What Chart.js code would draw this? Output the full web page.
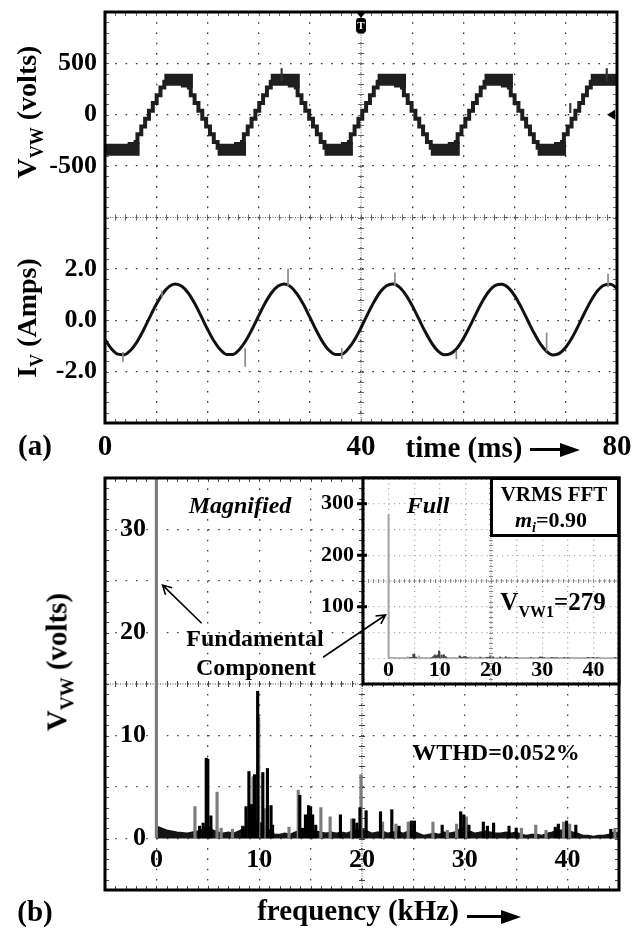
<!DOCTYPE html>
<html>
<head>
<meta charset="utf-8">
<title>Line voltage, phase current and voltage spectrum</title>
<script src="https://cdn.jsdelivr.net/npm/chart.js@4.4.1/dist/chart.umd.min.js"></script>
<style>
  html, body { margin: 0; padding: 0; background: #fff; }
  #page { position: relative; width: 635px; height: 931px; overflow: hidden;
          font-family: "Liberation Serif", "Times New Roman", serif; font-weight: bold; color: #000; }
  canvas { position: absolute; }
  .t { position: absolute; white-space: nowrap; line-height: 1; transform: translate(-50%, -50%); }
  .rot { transform: translate(-50%, -50%) rotate(-90deg); }
  .i { font-style: italic; }
  .s { position: relative; }
  .arrow { position: absolute; height: 3px; background: #000; }
  .arrow::after { content: ""; position: absolute; left: calc(100% - 2px); top: -5.5px;
                  border-left: 20px solid #000;
                  border-top: 7px solid transparent; border-bottom: 7px solid transparent; }
  #vrms { position: absolute; left: 490px; top: 477px; width: 124px; height: 54px;
          border: 3px solid #000; background: #fff; }
</style>
</head>
<body>
<div id="page">
  <canvas id="cA" width="635" height="460" style="left:0;top:0;width:635px;height:460px"></canvas>
  <canvas id="cB" width="635" height="471" style="left:0;top:460px;width:635px;height:471px"></canvas>
  <canvas id="cC" width="335" height="240" style="left:300px;top:460px;width:335px;height:240px"></canvas>

  <!-- panel (a) titles -->
  <div class="t rot" style="left:27px;top:112px;font-size:28px">V<span class="s" style="font-size:18px;top:7px">VW</span> (volts)</div>
  <div class="t rot" style="left:27px;top:318px;font-size:28px">I<span class="s" style="font-size:18px;top:7px">V</span> (Amps)</div>
  <div class="t" style="left:35px;top:445px;font-size:29px">(a)</div>
  <div class="t" style="left:464px;top:447px;font-size:29px">time (ms)</div>
  <div class="arrow" style="left:530px;top:448px;width:32px"></div>

  <!-- panel (b) titles -->
  <div class="t rot" style="left:57px;top:662px;font-size:29px">V<span class="s" style="font-size:19px;top:7px">VW</span> (volts)</div>
  <div class="t" style="left:35px;top:911px;font-size:29px">(b)</div>
  <div class="t" style="left:358px;top:910px;font-size:29px">frequency (kHz)</div>
  <div class="arrow" style="left:467px;top:915px;width:36px"></div>

  <div class="t i" style="left:240px;top:505px;font-size:24px">Magnified</div>
  <div class="t" style="left:255px;top:638px;font-size:24px">Fundamental</div>
  <div class="t" style="left:256px;top:667px;font-size:24px">Component</div>
  <div class="t i" style="left:428px;top:505px;font-size:24px">Full</div>
  <div id="vrms"></div>
  <div class="t" style="left:554px;top:494px;font-size:21px">VRMS FFT</div>
  <div class="t" style="left:551px;top:520px;font-size:22px"><span class="i">m<span class="s" style="font-size:14px;top:5px">i</span></span>=0.90</div>
  <div class="t" style="left:553px;top:601px;font-size:25px">V<span class="s" style="font-size:16px;top:7px">VW1</span>=279</div>
  <div class="t" style="left:496px;top:752px;font-size:24px">WTHD=0.052%</div>
</div>

<script>
// ---------- panel (a): time domain, 8 ms/div ----------
// staircase line voltage: instant (ms) where a new level starts, and that level (V)
const V_TIME = [0, 4.47, 5.07, 5.67, 6.27, 6.87, 7.47, 8.07, 8.67, 9.27,
  12.8, 13.4, 14.0, 14.6, 15.2, 15.8, 16.4, 17.0, 17.6,
  21.1, 21.7, 22.3, 22.9, 23.5, 24.1, 24.7, 25.3, 25.9,
  29.5, 30.1, 30.7, 31.3, 31.9, 32.5, 33.1, 33.7, 34.3,
  37.8, 38.4, 39.0, 39.6, 40.2, 40.8, 41.4, 42.0, 42.6,
  46.1, 46.7, 47.3, 47.9, 48.5, 49.1, 49.7, 50.3, 50.9,
  54.5, 55.1, 55.7, 56.3, 56.9, 57.5, 58.1, 58.7, 59.3,
  62.8, 63.4, 64.0, 64.6, 65.2, 65.8, 66.4, 67.0, 67.6,
  71.1, 71.7, 72.3, 72.9, 73.5, 74.1, 74.7, 75.3, 75.9, 80];
const V_LEVEL = [-340, -265, -190, -115, -40, 40, 115, 190, 265, 340,
  265, 190, 115, 40, -40, -115, -190, -265, -340,
  -265, -190, -115, -40, 40, 115, 190, 265, 340,
  265, 190, 115, 40, -40, -115, -190, -265, -340,
  -265, -190, -115, -40, 40, 115, 190, 265, 340,
  265, 190, 115, 40, -40, -115, -190, -265, -340,
  -265, -190, -115, -40, 40, 115, 190, 265, 340,
  265, 190, 115, 40, -40, -115, -190, -265, -340,
  -265, -190, -115, -40, 40, 115, 190, 265, 340, 340];
const V_SPIKES = [[27.6, 330, 450], [72.7, 20, 110], [78.4, 330, 450]]; // ms, from, to

// phase current sampled every millisecond (A)
const I_STEP = 1;
const I_VALUES = [-0.75, -1.11, -1.32, -1.34, -1.17, -0.84, -0.39, 0.12, 0.61, 1.03, 1.31,
  1.41, 1.32, 1.06, 0.66, 0.17, -0.34, -0.80, -1.14, -1.33, -1.33,
  -1.14, -0.80, -0.34, 0.17, 0.66, 1.06, 1.32, 1.41, 1.31, 1.03,
  0.62, 0.12, -0.39, -0.84, -1.17, -1.33, -1.32, -1.11, -0.76, -0.29,
  0.22, 0.70, 1.10, 1.34, 1.41, 1.29, 0.99, 0.57, 0.07, -0.43,
  -0.87, -1.19, -1.34, -1.30, -1.09, -0.71, -0.24, 0.27, 0.75, 1.13,
  1.36, 1.40, 1.27, 0.96, 0.52, 0.02, -0.48, -0.91, -1.21, -1.35,
  -1.29, -1.05, -0.67, -0.19, 0.32, 0.79, 1.16, 1.37, 1.40, 1.24];
const I_SPIKES = [[2.8, -1.6, -1.25], [8.9, 0.9, 1.15], [21.9, -1.8, -1.1], [28.6, 1.35, 2.0],
  [37.0, -1.5, -1.1], [45.3, 1.35, 1.85], [54.9, -1.5, -1.2], [69.0, -1.2, -0.5], [78.6, 1.3, 1.8]];

const T_TICKS = [0, 40, 80];
const V_TICKS = [500, 0, -500];
const I_TICKS = [2, 0, -2];

// ---------- panel (b): spectrum of V_VW ----------
const SPEC_GRAY = [[0, 279], [3.75, 3.1], [5.9, 4.5], [6.3, 1.0], [7.4, 0.9], [8.9, 2.0], [9.4, 6.0],
  [9.95, 11.8], [10.5, 2.9], [12.9, 1.1], [13.8, 4.7], [16.0, 3.0], [16.9, 2.1], [19.0, 1.9],
  [19.9, 6.2], [22.0, 1.6], [23.3, 1.4], [24.5, 1.6], [26.9, 1.6], [28.3, 0.8], [29.2, 1.4],
  [30.15, 2.1], [35.5, 1.0], [36.9, 1.3], [37.9, 0.8], [39.6, 1.6], [40.2, 1.4], [44.6, 1.0]];
const SPEC_BLACK = [[4.2, 1.2], [4.55, 1.5], [4.85, 7.8], [5.0, 7.7], [5.3, 2.2], [8.4, 1.2],
  [8.72, 3.1], [9.0, 6.5], [9.25, 3.3], [9.55, 6.2], [9.85, 14.3], [10.35, 6.4], [10.8, 6.8],
  [11.15, 3.2], [11.3, 1.3], [13.95, 4.2], [14.2, 1.0], [14.5, 2.3], [14.8, 3.2], [15.0, 3.1],
  [15.2, 2.3], [15.5, 1.3], [17.9, 2.3], [19.2, 1.9], [19.5, 1.5], [19.8, 3.0], [20.4, 2.7],
  [21.8, 2.6], [22.9, 2.8], [23.6, 1.2], [24.8, 1.7], [25.1, 1.7], [27.8, 1.3], [29.6, 2.6],
  [29.9, 2.3], [30.4, 1.3], [31.8, 1.6], [32.2, 1.2], [32.8, 1.5], [34.3, 1.2], [35.0, 1.0],
  [38.8, 1.1], [39.1, 1.4], [39.9, 1.7], [40.8, 1.3], [44.2, 0.9]];
// noise floor every 0.5 kHz from 0 to 45 kHz (V)
const NOISE_STEP = 0.5;
const NOISE = [1.2, 1.0, 0.8, 0.7, 0.6, 0.55, 0.5, 0.6, 0.7, 0.9,
  1.2, 0.8, 0.6, 0.5, 0.6, 0.5, 0.7, 1.0, 1.5, 1.8,
  1.6, 1.2, 0.8, 0.4, 0.4, 0.5, 0.4, 0.6, 0.8, 0.9,
  0.9, 0.7, 0.6, 0.5, 0.6, 0.5, 0.6, 0.5, 0.7, 0.8,
  0.9, 0.7, 0.5, 0.6, 0.7, 0.5, 0.6, 0.7, 0.5, 0.7,
  0.7, 0.5, 0.3, 0.4, 0.5, 0.4, 0.6, 0.5, 0.6, 0.9,
  1.0, 0.7, 0.5, 0.6, 0.7, 0.6, 0.5, 0.5, 0.6, 0.5,
  0.6, 0.4, 0.3, 0.4, 0.4, 0.3, 0.5, 0.6, 0.8, 0.8,
  0.8, 0.6, 0.5, 0.3, 0.3, 0.2, 0.3, 0.3, 0.4, 0.6,
  0.5];

const F_TICKS = [0, 10, 20, 30, 40];
const MAG_TICKS = [30, 20, 10, 0];
const FULL_TICKS = [300, 200, 100];

const SERIF = '"Liberation Serif", "Times New Roman", serif';
Chart.defaults.font.family = SERIF;

// scope-like scale: ticks only at the divisions, dotted grid, no labels
function gridScale(min, max, step, color, dash) {
  return {
    type: 'linear', min, max, offset: false,
    afterBuildTicks: s => {
      const t = [];
      for (let v = min; v <= max + 1e-9; v += step) t.push({ value: +v.toFixed(6) });
      s.ticks = t;
    },
    ticks: { display: false },
    grid: { color, lineWidth: 1.3, drawTicks: false, offset: false },
    border: { display: false, dash }
  };
}

// center cross with minor ticks, edge ticks and the thick frame
const graticule = {
  id: 'graticule',
  beforeDatasetsDraw(chart, args, o) {
    const { ctx, chartArea: a } = chart;
    const xs = chart.scales[o.x], ys = chart.scales[o.y];
    const cx = xs.getPixelForValue(o.cx), cy = ys.getPixelForValue(o.cy);
    ctx.save();
    ctx.strokeStyle = o.color || '#444';
    ctx.lineWidth = 1;
    ctx.setLineDash([1, 1.5]);
    ctx.beginPath();
    ctx.moveTo(cx, a.top); ctx.lineTo(cx, a.bottom);
    ctx.moveTo(a.left, cy); ctx.lineTo(a.right, cy);
    ctx.stroke();
    ctx.setLineDash([]);
    const tk = o.tick || 3, ed = o.edge || 4;
    ctx.beginPath();
    for (let v = xs.min; v <= xs.max + 1e-9; v += o.dx / 5) {
      const p = Math.round(xs.getPixelForValue(v)) + 0.5;
      ctx.moveTo(p, cy - tk); ctx.lineTo(p, cy + tk);
      ctx.moveTo(p, a.top); ctx.lineTo(p, a.top + ed);
      ctx.moveTo(p, a.bottom); ctx.lineTo(p, a.bottom - ed);
    }
    for (let v = ys.min; v <= ys.max + 1e-9; v += o.dy / 5) {
      const p = Math.round(ys.getPixelForValue(v)) + 0.5;
      ctx.moveTo(cx - tk, p); ctx.lineTo(cx + tk, p);
      ctx.moveTo(a.left, p); ctx.lineTo(a.left + ed, p);
      ctx.moveTo(a.right, p); ctx.lineTo(a.right - ed, p);
    }
    ctx.stroke();
    ctx.restore();
  },
  afterDatasetsDraw(chart) {
    const { ctx, chartArea: a } = chart;
    ctx.save();
    ctx.strokeStyle = '#000';
    ctx.lineWidth = 3;
    ctx.strokeRect(a.left, a.top, a.right - a.left, a.bottom - a.top);
    ctx.restore();
  }
};

function drawArrow(ctx, x0, y0, x1, y1) {
  const ang = Math.atan2(y1 - y0, x1 - x0), h = 10;
  ctx.beginPath();
  ctx.moveTo(x0, y0); ctx.lineTo(x1, y1);
  ctx.moveTo(x1 - h * Math.cos(ang - 0.5), y1 - h * Math.sin(ang - 0.5));
  ctx.lineTo(x1, y1);
  ctx.lineTo(x1 - h * Math.cos(ang + 0.5), y1 - h * Math.sin(ang + 0.5));
  ctx.stroke();
}

const labelsA = {
  id: 'labelsA',
  afterDraw(chart) {
    const { ctx, scales, chartArea: a } = chart;
    ctx.save();
    ctx.fillStyle = '#000';
    ctx.font = `bold 26px ${SERIF}`;
    ctx.textAlign = 'right';
    ctx.textBaseline = 'middle';
    V_TICKS.forEach(v => ctx.fillText(String(v), a.left - 8, scales.yV.getPixelForValue(v)));
    I_TICKS.forEach(v => ctx.fillText(v.toFixed(1), a.left - 8, scales.yI.getPixelForValue(v)));
    ctx.font = `bold 29px ${SERIF}`;
    ctx.textAlign = 'center';
    T_TICKS.forEach(v => ctx.fillText(String(v), scales.x.getPixelForValue(v), a.bottom + 25));

    // trigger marker at the top of the centre line
    const tx = scales.x.getPixelForValue(40);
    ctx.beginPath();
    ctx.moveTo(tx - 4, a.top + 1); ctx.lineTo(tx + 4, a.top + 1); ctx.lineTo(tx, a.top + 6);
    ctx.closePath(); ctx.fill();
    ctx.beginPath();
    ctx.roundRect(tx - 5, a.top + 6, 10, 15, 3);
    ctx.fill();
    ctx.fillStyle = '#fff';
    ctx.font = `bold 11px ${SERIF}`;
    ctx.fillText('T', tx, a.top + 14);
    // ground level marker of the voltage channel
    ctx.fillStyle = '#000';
    const gy = scales.yV.getPixelForValue(0);
    ctx.beginPath();
    ctx.moveTo(a.right - 2, gy - 5); ctx.lineTo(a.right - 2, gy + 5); ctx.lineTo(a.right - 10, gy);
    ctx.closePath(); ctx.fill();
    ctx.restore();
  }
};

new Chart(document.getElementById('cA'), {
  type: 'line',
  data: {
    datasets: [
      { label: 'V_VW', yAxisID: 'yV', order: 2,
        data: V_TIME.map((t, i) => ({ x: t, y: V_LEVEL[i] })),
        stepped: true, borderColor: '#1e1e1e', borderWidth: 4, pointRadius: 0,
        segment: { borderWidth: c => Math.abs(V_LEVEL[c.p0DataIndex]) >= 340 ? 12 : 4 } },
      { type: 'bar', label: 'V noise', yAxisID: 'yV', order: 1, grouped: false,
        data: V_SPIKES.map(s => ({ x: s[0], y: [s[1], s[2]] })),
        backgroundColor: '#333', barThickness: 1.5 },
      { label: 'I_V', yAxisID: 'yI', order: 2,
        data: I_VALUES.map((v, i) => ({ x: i * I_STEP, y: v })),
        borderColor: '#111', borderWidth: 3, pointRadius: 0, cubicInterpolationMode: 'monotone' },
      { type: 'bar', label: 'I noise', yAxisID: 'yI', order: 1, grouped: false,
        data: I_SPIKES.map(s => ({ x: s[0], y: [s[1], s[2]] })),
        backgroundColor: '#888', barThickness: 1 }
    ]
  },
  options: {
    responsive: false, animation: false, events: [],
    layout: { padding: { left: 105, top: 12, right: 18, bottom: 37 } },
    plugins: {
      legend: { display: false }, tooltip: { enabled: false },
      graticule: { x: 'x', y: 'yV', cx: 40, cy: -1000, dx: 8, dy: 500, color: '#666' }
    },
    scales: {
      x: gridScale(0, 80, 8, '#333', [1.6, 8.64]),
      yV: Object.assign(gridScale(-3000, 1000, 500, '#333', [1.6, 8.68]), { position: 'left' }),
      yI: { type: 'linear', min: -4, max: 12, display: false }
    }
  },
  plugins: [graticule, labelsA]
});

// ---------- panel (b) main, magnified ----------
const labelsB = {
  id: 'labelsB',
  afterDraw(chart) {
    const { ctx, scales, chartArea: a } = chart;
    ctx.save();
    ctx.fillStyle = '#000';
    ctx.font = `bold 26px ${SERIF}`;
    ctx.textBaseline = 'middle';
    ctx.textAlign = 'right';
    MAG_TICKS.forEach(v => ctx.fillText(String(v), a.left + 41, scales.y.getPixelForValue(v)));
    ctx.textAlign = 'center';
    F_TICKS.forEach(v => ctx.fillText(String(v), scales.x.getPixelForValue(v), a.bottom - 30));
    ctx.strokeStyle = '#000';
    ctx.lineWidth = 1.6;
    drawArrow(ctx, scales.x.getPixelForValue(4.4), scales.y.getPixelForValue(20.9),
                   scales.x.getPixelForValue(0.6), scales.y.getPixelForValue(24.6));
    ctx.restore();
  }
};

function spectrumSets(gray, black, floorColor, thick) {
  return [
    { label: 'black', order: 1, grouped: false, data: SPEC_BLACK.map(p => ({ x: p[0], y: p[1] })),
      backgroundColor: black, barThickness: thick },
    { label: 'gray', order: 2, grouped: false, data: SPEC_GRAY.map(p => ({ x: p[0], y: p[1] })),
      backgroundColor: gray, barThickness: thick },
    { type: 'line', label: 'floor', order: 3, data: NOISE.map((v, i) => ({ x: i * NOISE_STEP, y: v })),
      borderColor: floorColor, backgroundColor: floorColor, borderWidth: 1.5, fill: 'origin',
      pointRadius: 0, tension: 0 }
  ];
}

new Chart(document.getElementById('cB'), {
  type: 'bar',
  data: { datasets: spectrumSets('#7c7c7c', '#000', '#151515', 2.5) },
  options: {
    responsive: false, animation: false, events: [],
    layout: { padding: { left: 105, top: 18, right: 16, bottom: 41 } },
    plugins: {
      legend: { display: false }, tooltip: { enabled: false },
      graticule: { x: 'x', y: 'y', cx: 20, cy: 15, dx: 5, dy: 5 }
    },
    scales: {
      x: gridScale(-5, 45, 5, '#444', [1.6, 8.68]),
      y: gridScale(-5, 35, 5, '#444', [1.6, 8.7])
    }
  },
  plugins: [graticule, labelsB]
});

// ---------- panel (b) inset, full scale ----------
const labelsC = {
  id: 'labelsC',
  beforeDraw(chart) {
    const { ctx, chartArea: a } = chart;
    ctx.save();
    ctx.fillStyle = '#fff';
    ctx.fillRect(a.left, a.top, a.right - a.left, a.bottom - a.top);
    ctx.restore();
  },
  afterDraw(chart) {
    const { ctx, scales, chartArea: a } = chart;
    ctx.save();
    ctx.fillStyle = '#000';
    ctx.strokeStyle = '#000';
    ctx.font = `bold 22px ${SERIF}`;
    ctx.textBaseline = 'middle';
    ctx.textAlign = 'right';
    ctx.lineWidth = 3;
    FULL_TICKS.forEach(v => {
      const y = scales.y.getPixelForValue(v);
      ctx.fillText(String(v), a.left - 9, y);
      ctx.beginPath(); ctx.moveTo(a.left - 6, y); ctx.lineTo(a.left + 4, y); ctx.stroke();
    });
    ctx.textAlign = 'center';
    F_TICKS.forEach(v => ctx.fillText(String(v), scales.x.getPixelForValue(v), a.bottom - 14));
    ctx.lineWidth = 1.6;
    drawArrow(ctx, scales.x.getPixelForValue(-12.8), scales.y.getPixelForValue(2),
                   scales.x.getPixelForValue(-0.6), scales.y.getPixelForValue(84));
    ctx.restore();
  }
};

new Chart(document.getElementById('cC'), {
  type: 'bar',
  data: { datasets: spectrumSets('#a8a8a8', '#444', '#a0a0a0', 1.5) },
  options: {
    responsive: false, animation: false, events: [],
    layout: { padding: { left: 63, top: 18, right: 16, bottom: 16 } },
    plugins: {
      legend: { display: false }, tooltip: { enabled: false },
      graticule: { x: 'x', y: 'y', cx: 20, cy: 150, dx: 5, dy: 50, color: '#888', tick: 2, edge: 2 }
    },
    scales: {
      x: gridScale(-5, 45, 5, '#a0a0a0', [1, 4.14]),
      y: gridScale(-50, 350, 50, '#a0a0a0', [1, 4.15])
    }
  },
  plugins: [labelsC, graticule]
});
</script>
</body>
</html>
